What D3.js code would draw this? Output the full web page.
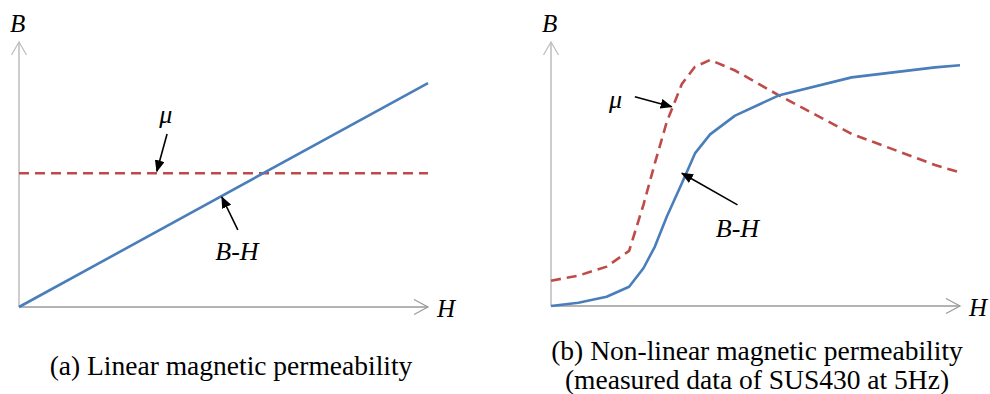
<!DOCTYPE html>
<html>
<head>
<meta charset="utf-8">
<script src="https://cdn.jsdelivr.net/npm/d3@7"></script>
<style>
  html, body { margin: 0; padding: 0; background: #fff; }
  svg { display: block; }
  text { font-family: "Liberation Serif", "Times New Roman", serif; fill: #000; }
</style>
</head>
<body>
<svg id="chart" width="990" height="394"></svg>
<script>
// (a) linear material: straight B-H line, constant permeability
const linearH = [0, 100];
const linearB = [0, 84.5];
const linearMu = [50.5, 50.5];

// (b) SUS430 measured at 5 Hz (normalised H, B and mu)
const susH  = [0, 6.7, 13.6, 19.1, 22.6, 25.4, 28.3, 32.0, 35.2, 38.9, 45.0, 55.6, 73.5, 93.9, 100];
const susB  = [0, 1.2, 3.5, 7.3, 14.3, 22.5, 33.8, 46.5, 57.8, 65.0, 72.1, 79.7, 86.6, 90.4, 91.2];
const susMu = [9.6, 11.5, 14.9, 20.9, 38.3, 54.1, 69.7, 84.1, 90.6, 93.2, 89.2, 79.9, 65.2, 53.4, 50.6];

const axisLabels = { y: "B", x: "H" };
const curveLabels = { mu: "\u03bc", bh: "B-H" };
const captionA = ["(a) Linear magnetic permeability"];
const captionB = ["(b) Non-linear magnetic permeability", "(measured data of SUS430 at 5Hz)"];

const BLUE = "#4a7ebb";
const RED = "#be4b48";
const SERIF = "'Liberation Serif', 'Times New Roman', serif";

const svg = d3.select("#chart");

svg.append("defs").append("marker")
  .attr("id", "head")
  .attr("markerUnits", "userSpaceOnUse")
  .attr("viewBox", "0 0 12 10")
  .attr("refX", 11).attr("refY", 5)
  .attr("markerWidth", 12).attr("markerHeight", 10)
  .attr("orient", "auto")
  .append("path").attr("d", "M0,0 L12,5 L0,10 Z").attr("fill", "#000");

function panel(opts) {
  const x = d3.scaleLinear().domain([0, 100]).range(opts.xr);
  const y = d3.scaleLinear().domain([0, 100]).range(opts.yr);
  const g = svg.append("g").attr("font-family", SERIF);

  // axes with open arrow tips
  const x0 = x(0), y0 = y(0), xt = x(100), yt = y(100);
  g.append("line").attr("x1", x0).attr("y1", y0).attr("x2", x0).attr("y2", yt)
    .attr("stroke", "#bdbdbd").attr("stroke-width", 1.5);
  g.append("polyline").attr("points", `${x0 - 7.5},${yt + 13} ${x0},${yt} ${x0 + 7.5},${yt + 13}`)
    .attr("fill", "none").attr("stroke", "#bdbdbd").attr("stroke-width", 1.2);
  g.append("line").attr("x1", x0).attr("y1", y0).attr("x2", xt).attr("y2", y0)
    .attr("stroke", "#9a9a9a").attr("stroke-width", 1.5);
  g.append("polyline").attr("points", `${xt - 14},${y0 - 7.5} ${xt},${y0} ${xt - 14},${y0 + 7.5}`)
    .attr("fill", "none").attr("stroke", "#9a9a9a").attr("stroke-width", 1.2);

  g.append("text").attr("x", x0 - 9).attr("y", 32)
    .attr("font-size", 25).attr("font-style", "italic").text(axisLabels.y);
  g.append("text").attr("x", xt + 9).attr("y", y0 + 10)
    .attr("font-size", 25).attr("font-style", "italic").text(axisLabels.x);

  const line = d3.line().x(d => x(d[0])).y(d => y(d[1]));

  g.append("path").datum(d3.zip(opts.h, opts.mu))
    .attr("d", line).attr("fill", "none").attr("stroke", RED)
    .attr("stroke-width", 2.6).attr("stroke-dasharray", "10,6");
  g.append("path").datum(d3.zip(opts.h, opts.b))
    .attr("d", line).attr("fill", "none").attr("stroke", BLUE)
    .attr("stroke-width", 2.6).attr("stroke-linejoin", "round");

  // call-out arrows and their labels
  opts.notes.forEach(n => {
    g.append("line")
      .attr("x1", x(n.from[0])).attr("y1", y(n.from[1]))
      .attr("x2", x(n.to[0])).attr("y2", y(n.to[1]))
      .attr("stroke", "#000").attr("stroke-width", 1.6)
      .attr("marker-end", "url(#head)");
    g.append("text").attr("x", x(n.at[0])).attr("y", y(n.at[1]))
      .attr("font-size", 26).attr("font-style", "italic").text(n.label);
  });

  g.selectAll("text.caption").data(opts.caption).enter().append("text")
    .attr("class", "caption")
    .attr("x", opts.cx).attr("y", (d, i) => opts.cy + i * 29)
    .attr("text-anchor", "middle").attr("font-size", 27.5).text(d => d);
}

panel({
  xr: [19, 428], yr: [307, 42],
  h: linearH, b: linearB, mu: linearMu,
  notes: [
    { from: [36.2, 65.3], to: [33.7, 51.2], at: [34.3, 69.5], label: curveLabels.mu },
    { from: [53.5, 29.1], to: [49.6, 41.5], at: [48.0, 17.7], label: curveLabels.bh }
  ],
  caption: captionA, cx: 231, cy: 375
});

panel({
  xr: [551, 960], yr: [306, 42],
  h: susH, b: susB, mu: susMu,
  notes: [
    { from: [20.5, 79.3], to: [29.5, 75.5], at: [14.2, 75], label: curveLabels.mu },
    { from: [45.6, 38.3], to: [32.0, 50.3], at: [40.3, 26.1], label: curveLabels.bh }
  ],
  caption: captionB, cx: 757, cy: 360
});
</script>
</body>
</html>
